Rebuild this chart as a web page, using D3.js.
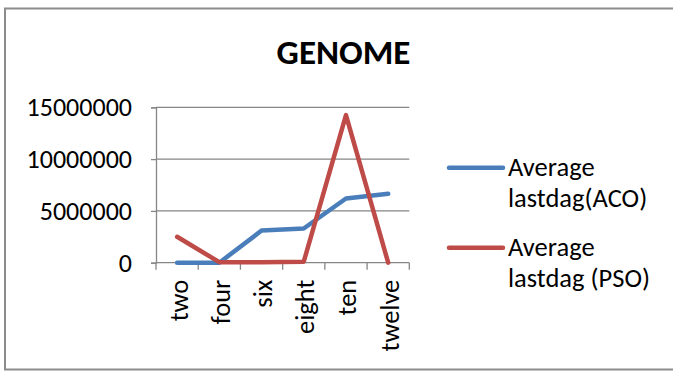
<!DOCTYPE html>
<html>
<head>
<meta charset="utf-8">
<script src="https://cdn.jsdelivr.net/npm/d3@7"></script>
<style>
  html, body { margin: 0; padding: 0; background: #ffffff; overflow: hidden; }
  svg { display: block; }
  text { font-family: Carlito, Calibri, Lato, "Open Sans", sans-serif; fill: #000; }
</style>
</head>
<body>
<div id="chart"></div>
<script>
// ---- data ----
const title = "GENOME";
const categories = ["two", "four", "six", "eight", "ten", "twelve"];
const seriesNames = ["Average lastdag(ACO)", "Average lastdag (PSO)"];
const legendLines = [["Average", "lastdag(ACO)"], ["Average", "lastdag (PSO)"]];
const acoValues = [0, 0, 3100000, 3300000, 6200000, 6650000];
const psoValues = [2500000, 50000, 50000, 100000, 14250000, 0];
const yTicks = [0, 5000000, 10000000, 15000000];
const colors = ["#4A7EBB", "#BE4B48"];

// ---- layout ----
const W = 673, H = 371;
const plot = { left: 156, right: 409.3, top: 107.3, bottom: 262.7 };

const svg = d3.select("#chart").append("svg")
  .attr("width", W).attr("height", H);

// outer border (right side runs past the picture edge)
svg.append("rect")
  .attr("x", 5).attr("y", 8.5)
  .attr("width", 760).attr("height", 361)
  .attr("fill", "#fff")
  .attr("stroke", "#8c8c8c")
  .attr("stroke-width", 2);

// title
svg.append("text")
  .attr("x", 343.5).attr("y", 64)
  .attr("text-anchor", "middle")
  .style("font-size", "35px")
  .style("font-weight", "bold")
  .text(title);

const x = d3.scaleBand().domain(categories).range([plot.left, plot.right]).padding(0);
const y = d3.scaleLinear().domain([0, 15000000]).range([plot.bottom, plot.top]);

// gridlines
svg.append("g")
  .selectAll("line").data(yTicks).join("line")
  .attr("x1", plot.left).attr("x2", plot.right)
  .attr("y1", d => y(d)).attr("y2", d => y(d))
  .attr("stroke", "#868686").attr("stroke-width", 1.3);

// y axis
const yAxis = svg.append("g")
  .attr("transform", `translate(${plot.left},0)`)
  .call(d3.axisLeft(y).tickValues(yTicks).tickSize(5).tickPadding(19).tickFormat(d3.format("d")));
yAxis.select(".domain").attr("stroke", "#868686").attr("stroke-width", 1.3);
yAxis.selectAll(".tick line").attr("stroke", "#868686").attr("stroke-width", 1.3);
yAxis.selectAll(".tick text")
  .style("font-size", "26px")
  .style("font-family", "Carlito, Calibri, Lato, sans-serif")
  .attr("fill", "#000");

// x axis ticks at band boundaries
const boundaries = categories.map(c => x(c)).concat([plot.right]);
svg.append("g")
  .selectAll("line").data(boundaries).join("line")
  .attr("x1", d => d).attr("x2", d => d)
  .attr("y1", plot.bottom).attr("y2", plot.bottom + 7)
  .attr("stroke", "#868686").attr("stroke-width", 1.3);

// x labels (rotated)
svg.append("g")
  .selectAll("text").data(categories).join("text")
  .attr("transform", d => `translate(${x(d) + x.bandwidth() / 2},${plot.bottom + 17}) rotate(-90)`)
  .attr("text-anchor", "end")
  .attr("dy", 10.5)
  .style("font-size", "26.5px")
  .text(d => d);

// lines
const line = d3.line()
  .x((d, i) => x(categories[i]) + x.bandwidth() / 2)
  .y(d => y(d));

[acoValues, psoValues].forEach((vals, k) => {
  svg.append("path")
    .datum(vals)
    .attr("d", line)
    .attr("fill", "none")
    .attr("stroke", colors[k])
    .attr("stroke-width", 4.5)
    .attr("stroke-linejoin", "round")
    .attr("stroke-linecap", "round");
});

// legend
const legendY = [167.7, 247.7];
const lg = svg.append("g");
seriesNames.forEach((name, k) => {
  const g = lg.append("g");
  g.append("line")
    .attr("x1", 449).attr("x2", 503)
    .attr("y1", legendY[k]).attr("y2", legendY[k])
    .attr("stroke", colors[k]).attr("stroke-width", 4.5)
    .attr("stroke-linecap", "round");
  legendLines[k].forEach((t, j) => {
    g.append("text")
      .attr("x", 508)
      .attr("y", legendY[k] + 8.5 + j * 31)
      .style("font-size", "26.5px")
      .text(t);
  });
});
</script>
</body>
</html>
